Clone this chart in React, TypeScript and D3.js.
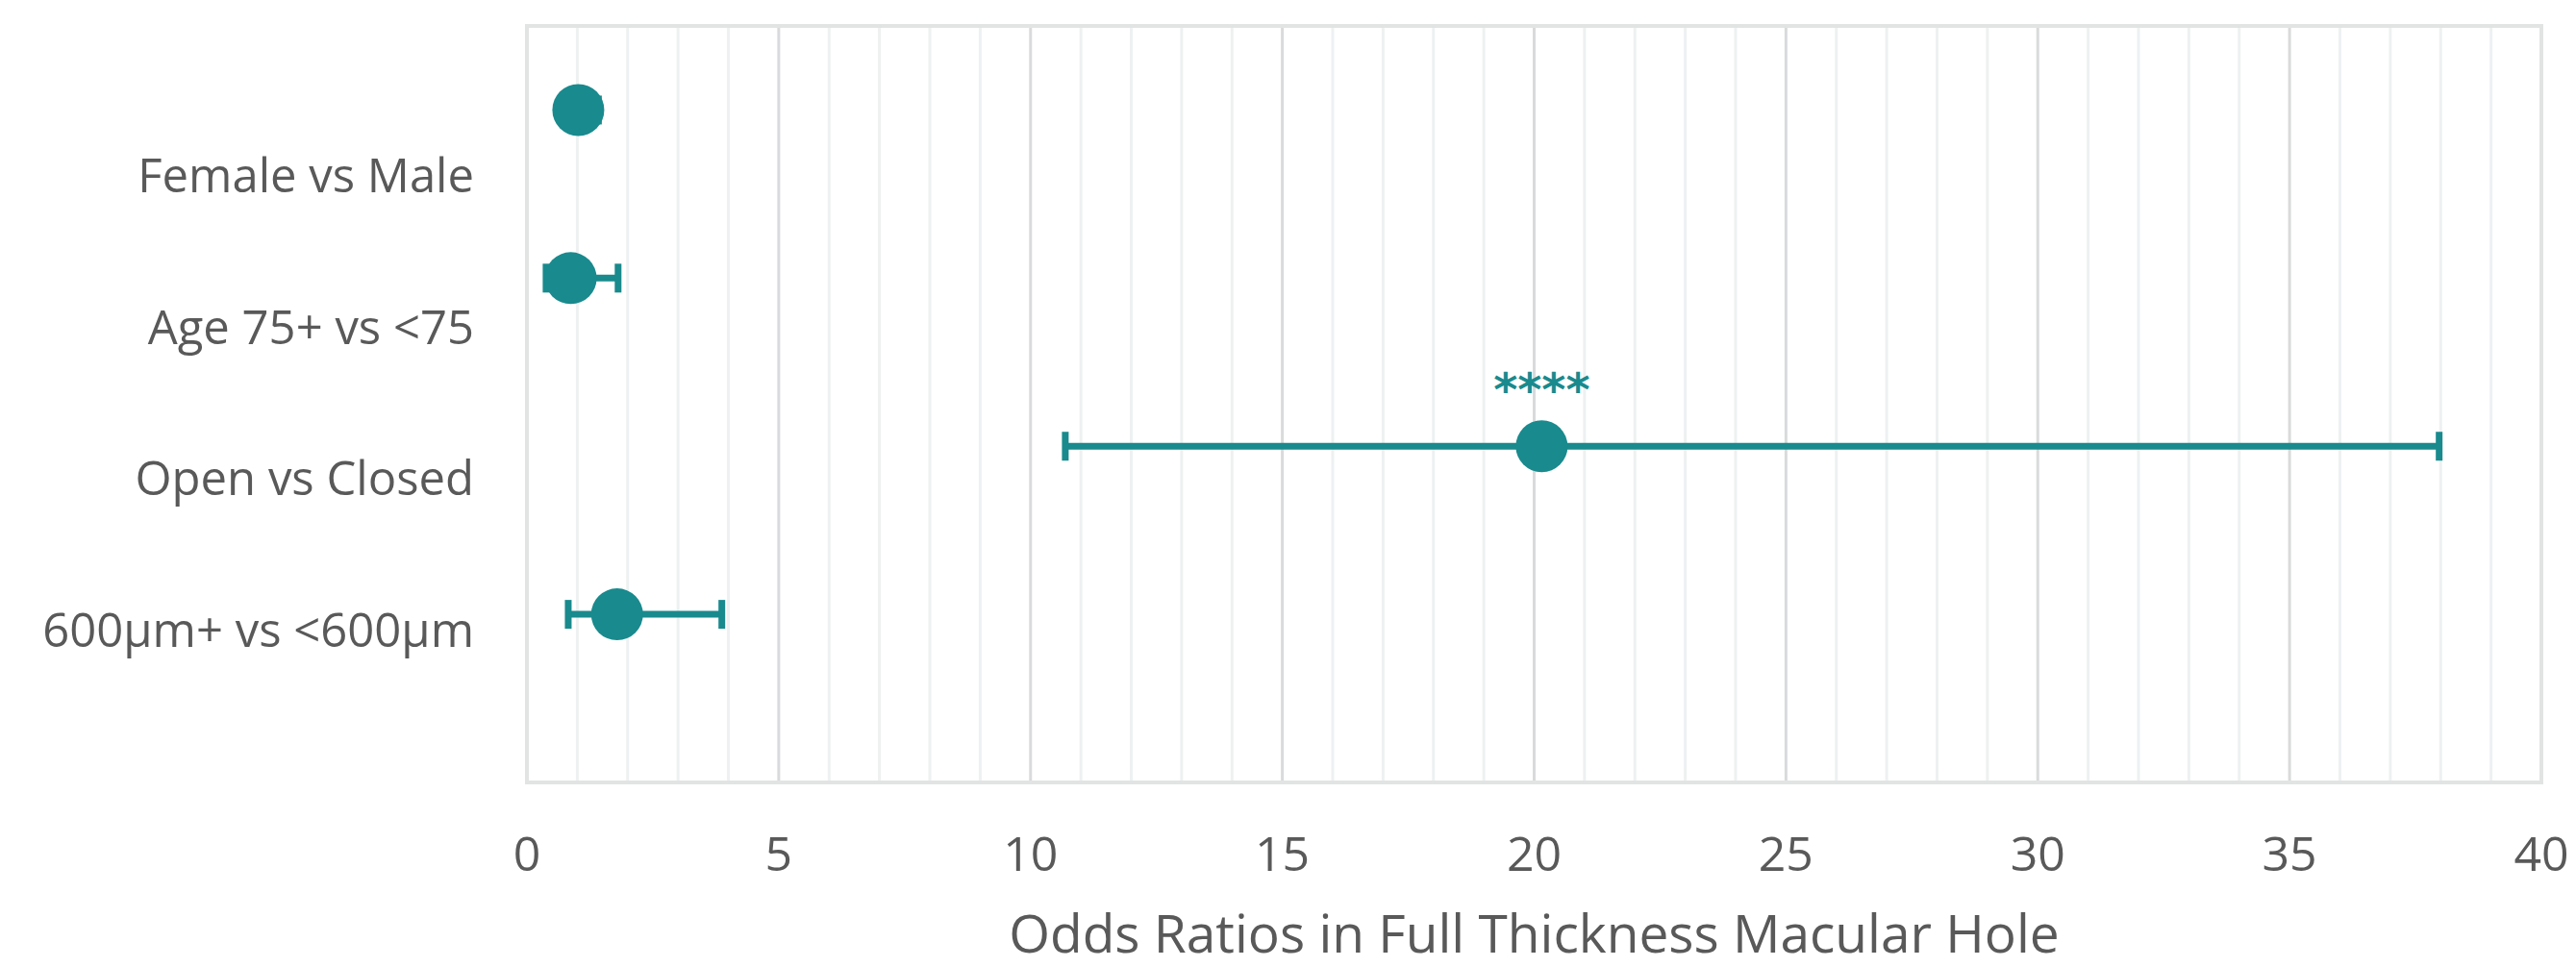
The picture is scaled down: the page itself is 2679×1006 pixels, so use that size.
import React from 'react';
import * as d3 from 'd3';

// odds ratios
const categories = ['Female vs Male', 'Age 75+ vs <75', 'Open vs Closed', '600μm+ vs <600μm'];
const oddsRatios = [1.02, 0.87, 20.15, 1.79];
const lowerCI = [0.72, 0.38, 10.69, 0.82];
const upperCI = [1.42, 1.81, 37.97, 3.87];
const significance = ['', '', '****', ''];
const xTicks = [0, 5, 10, 15, 20, 25, 30, 35, 40];
const xTitle = 'Odds Ratios in Full Thickness Macular Hole';

const W = 2679;
const H = 1006;
const plot = {left: 548, right: 2643, top: 27, bottom: 814};
const teal = '#198a8d';
const textGray = '#595959';
const font = '"Open Sans", "Noto Sans", sans-serif';

export default function App() {
  const x = d3.scaleLinear().domain([0, 40]).range([plot.left, plot.right]);
  const y = d3.scaleLinear().domain([0, 4.5]).range([plot.bottom, plot.top]);
  // category labels sit on their own evenly spaced axis
  const labelY = d3.scalePoint().domain(categories).range([200, 673]);

  const minor = x.ticks(40).filter(t => t % 5 !== 0);
  const rows = categories.map((c, i) => ({
    name: c,
    or: oddsRatios[i],
    lo: lowerCI[i],
    hi: upperCI[i],
    sig: significance[i],
    pos: categories.length - i,
  }));

  return (
    <svg width={W} height={H} style={{position: 'absolute', left: 0, top: 0, background: '#fff'}}>
      {/* grid */}
      <g>
        {minor.map(t => (
          <line key={'m' + t} x1={x(t)} x2={x(t)} y1={plot.top} y2={plot.bottom}
            stroke="#eef1f1" strokeWidth={3} />
        ))}
        {xTicks.map(t => (
          <line key={'M' + t} x1={x(t)} x2={x(t)} y1={plot.top} y2={plot.bottom}
            stroke="#d9dadb" strokeWidth={3} />
        ))}
        <rect x={plot.left} y={plot.top} width={plot.right - plot.left} height={plot.bottom - plot.top}
          fill="none" stroke="#e2e4e4" strokeWidth={4} />
      </g>

      {/* error bars */}
      <g stroke={teal} strokeWidth={7}>
        {rows.map(r => (
          <g key={r.name}>
            <line x1={x(r.lo)} x2={x(r.hi)} y1={y(r.pos)} y2={y(r.pos)} />
            <line x1={x(r.lo)} x2={x(r.lo)} y1={y(r.pos) - 15} y2={y(r.pos) + 15} />
            <line x1={x(r.hi)} x2={x(r.hi)} y1={y(r.pos) - 15} y2={y(r.pos) + 15} />
          </g>
        ))}
      </g>

      {/* points */}
      <g fill={teal}>
        {rows.map(r => (
          <circle key={r.name} cx={x(r.or)} cy={y(r.pos)} r={27} />
        ))}
      </g>

      {/* significance stars */}
      {rows.filter(r => r.sig).map(r => (
        <text key={r.name} x={x(r.or)} y={y(r.pos) - 42} textAnchor="middle"
          fontFamily='"DejaVu Sans", sans-serif' fontWeight="bold" fontSize={48} fill={teal}>
          {r.sig}
        </text>
      ))}

      {/* category labels */}
      {categories.map(c => (
        <text key={c} x={493} y={labelY(c)} textAnchor="end" fontFamily={font}
          fontSize={49} fill={textGray}>{c}</text>
      ))}

      {/* x tick labels */}
      {xTicks.map(t => (
        <text key={t} x={x(t)} y={906} textAnchor="middle" fontFamily={font}
          fontSize={50} fill={textGray}>{t}</text>
      ))}

      <text x={(plot.left + plot.right) / 2} y={991} textAnchor="middle" fontFamily={font}
        fontSize={55} fill={textGray}>{xTitle}</text>
    </svg>
  );
}
